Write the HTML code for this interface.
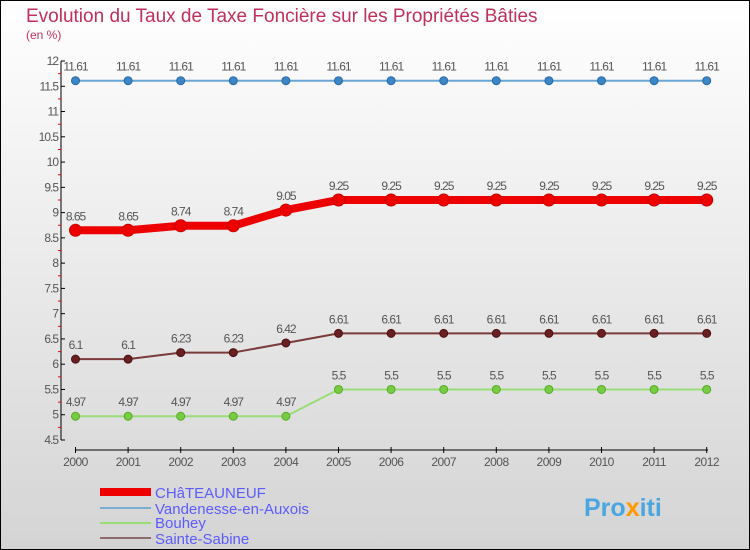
<!DOCTYPE html>
<html><head><meta charset="utf-8"><style>
body{margin:0}
svg{display:block;font-family:"Liberation Sans",sans-serif}
</style></head><body>
<svg id="c" width="750" height="550" xmlns="http://www.w3.org/2000/svg">
<defs><linearGradient id="bg" x1="0" y1="0" x2="0" y2="1"><stop offset="0" stop-color="#ffffff"/><stop offset="1" stop-color="#d4d4d4"/></linearGradient></defs>
<rect x="0.5" y="0.5" width="749" height="549" fill="url(#bg)" stroke="#000"/>
<text x="26" y="22" font-size="19" fill="#c0305a">Evolution du Taux de Taxe Foncière sur les Propriétés Bâties</text>
<text x="26" y="39" font-size="12" fill="#c0305a">(en %)</text>
<g id="axes"></g><g id="series"></g>
<g>
<rect x="100" y="488" width="51" height="8" fill="#ee0000"/>
<text x="155" y="498" font-size="15" fill="#5b5bff">CHâTEAUNEUF</text>
<rect x="100" y="507" width="51" height="2" fill="#7aaed0"/>
<text x="155" y="514" font-size="15" fill="#5b5bff">Vandenesse-en-Auxois</text>
<rect x="100" y="522" width="51" height="2" fill="#99dd77"/>
<text x="155" y="528" font-size="15" fill="#5b5bff">Bouhey</text>
<rect x="100" y="537" width="51" height="2" fill="#8b6b6b"/>
<text x="155" y="544" font-size="15" fill="#5b5bff">Sainte-Sabine</text>
</g>
<text x="584" y="516" font-size="25" font-weight="bold" fill="#4aa6e0">Pro<tspan fill="#ff9900">x</tspan>iti</text>
</svg>
<script>
const years=["2000","2001","2002","2003","2004","2005","2006","2007","2008","2009","2010","2011","2012"];
const chateauneuf=[8.65,8.65,8.74,8.74,9.05,9.25,9.25,9.25,9.25,9.25,9.25,9.25,9.25];
const vandenesse=[11.61,11.61,11.61,11.61,11.61,11.61,11.61,11.61,11.61,11.61,11.61,11.61,11.61];
const bouhey=[4.97,4.97,4.97,4.97,4.97,5.5,5.5,5.5,5.5,5.5,5.5,5.5,5.5];
const sainteSabine=[6.1,6.1,6.23,6.23,6.42,6.61,6.61,6.61,6.61,6.61,6.61,6.61,6.61];
const yTicks=["4.5","5","5.5","6","6.5","7","7.5","8","8.5","9","9.5","10","10.5","11","11.5","12"];
const NS="http://www.w3.org/2000/svg";
const xs=i=>75.5+i*52.6;
const ys=v=>440-(v-4.5)*(379/7.5);
function mk(t,a,p){const e=document.createElementNS(NS,t);for(const k in a)e.setAttribute(k,a[k]);p.appendChild(e);return e;}
const ax=document.getElementById('axes');
let l=mk('line',{x1:61,y1:61,x2:61,y2:440,stroke:'#000'},ax);


l=mk('line',{x1:75,y1:450,x2:708,y2:450,stroke:'#000'},ax);


yTicks.forEach((t,k)=>{const y=ys(parseFloat(t));
mk('line',{x1:61,y1:y,x2:65,y2:y,stroke:'#000'},ax);
if(k<yTicks.length-1)mk('line',{x1:58,y1:y-12.6,x2:61,y2:y-12.6,stroke:'#e00'},ax);
const tx=mk('text',{x:58,y:y+4,'font-size':12,'text-anchor':'end',fill:'#555','letter-spacing':'-1'},ax);tx.textContent=t;

});
years.forEach((yr,i)=>{const x=xs(i);
mk('line',{x1:x,y1:447,x2:x,y2:453,stroke:'#000'},ax);
const tx=mk('text',{x:x,y:466,'font-size':12,'text-anchor':'middle',fill:'#555','letter-spacing':'-0.5'},ax);tx.textContent=yr;

});
const sg=document.getElementById('series');
function series(vals,name,color,w,r,dot,dotStroke){
const g=mk('g',{},sg);


mk('polyline',{points:vals.map((v,i)=>xs(i)+','+ys(v)).join(' '),fill:'none',stroke:color,'stroke-width':w,'stroke-linejoin':'round'},g);
vals.forEach((v,i)=>{const c=mk('circle',{cx:xs(i),cy:ys(v),r:r,fill:dot,stroke:dotStroke,'stroke-width':1},g);


const t=mk('text',{x:xs(i),y:ys(v)-10,'font-size':12,'text-anchor':'middle',fill:'#555','letter-spacing':'-1'},g);t.textContent=String(v);

});
}
series(vandenesse,'vandenesse','#6aa6d6',2,4,'#3a86c6','#2a6aa6');
series(chateauneuf,'chateauneuf','#ee0000',8,6,'#ee0000','#cc0000');
series(sainteSabine,'sainte-sabine','#7a3a3a',2,4,'#6a2020','#4a1010');
series(bouhey,'bouhey','#99dd77',2,4,'#77cc44','#55aa22');
</script>
</body></html>
